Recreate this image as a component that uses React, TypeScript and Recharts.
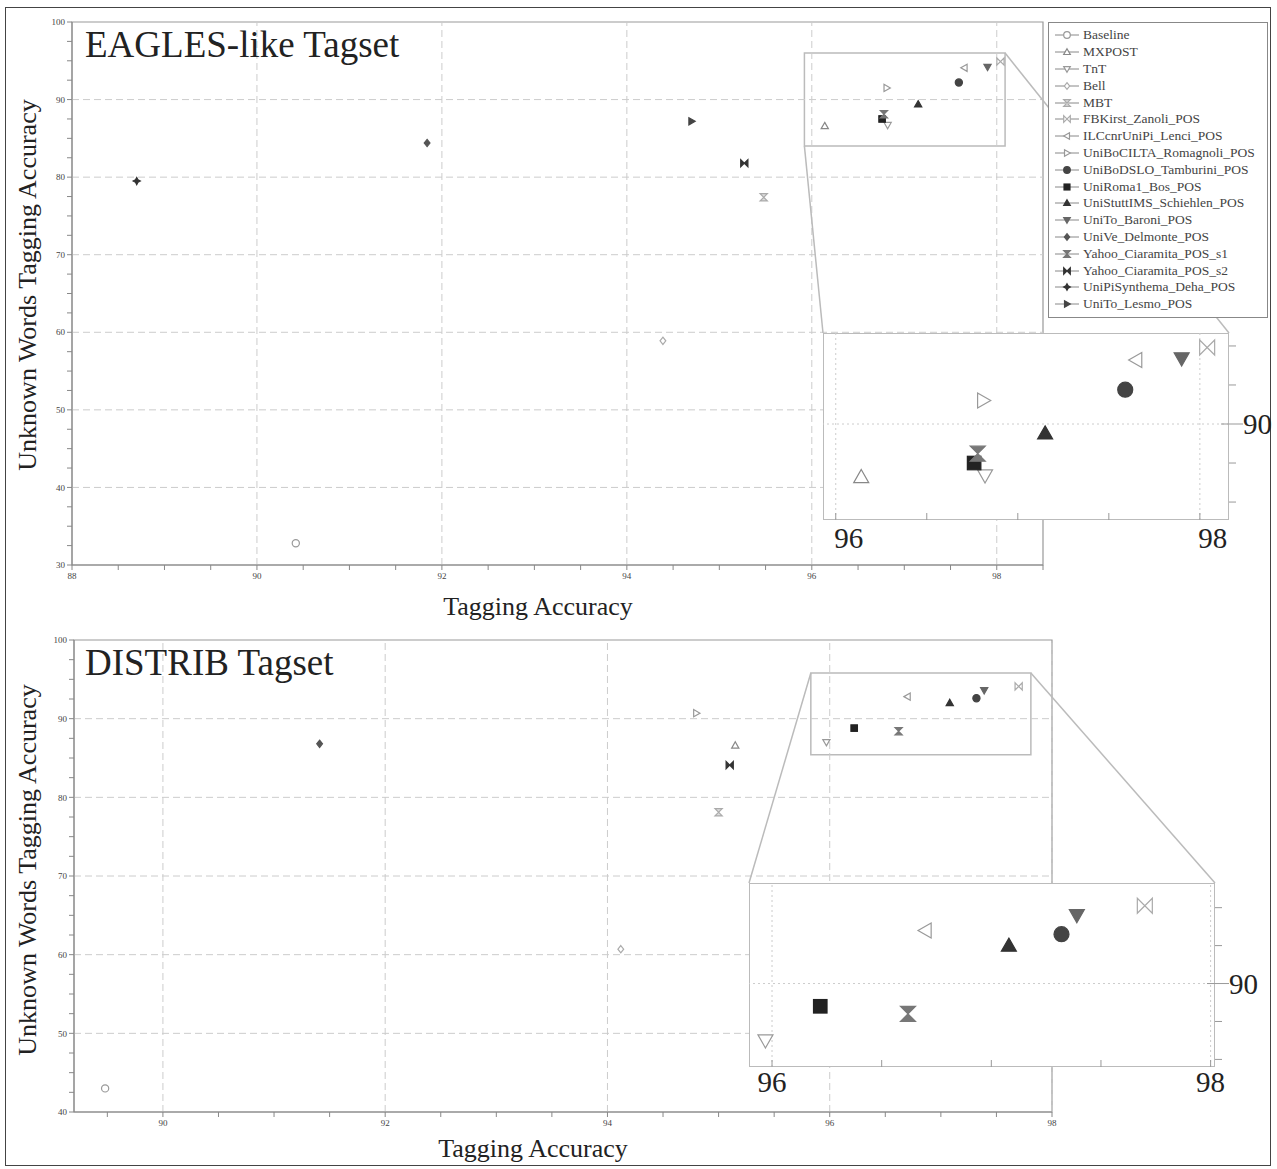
import React from "react";
import { ScatterChart, Scatter, XAxis, YAxis, ReferenceLine, ReferenceArea, Legend } from "recharts";

const seriesNames = [
  "Baseline", "MXPOST", "TnT", "Bell", "MBT",
  "FBKirst_Zanoli_POS", "ILCcnrUniPi_Lenci_POS", "UniBoCILTA_Romagnoli_POS",
  "UniBoDSLO_Tamburini_POS", "UniRoma1_Bos_POS", "UniStuttIMS_Schiehlen_POS",
  "UniTo_Baroni_POS", "UniVe_Delmonte_POS", "Yahoo_Ciaramita_POS_s1",
  "Yahoo_Ciaramita_POS_s2", "UniPiSynthema_Deha_POS", "UniTo_Lesmo_POS",
];

// EAGLES-like tagset: tagging accuracy / unknown words accuracy
const eaglesAccuracy = [90.42, 96.14, 96.82, 94.39, 95.48, 98.04, 97.65, 96.81, 97.59, 96.76, 97.15, 97.9, 91.84, 96.78, 95.27, 88.7, 94.7];
const eaglesUnknown = [32.8, 86.6, 86.7, 58.9, 77.4, 94.9, 94.1, 91.5, 92.2, 87.5, 89.4, 94.2, 84.4, 88.1, 81.8, 79.5, 87.2];

// DISTRIB tagset (last two systems not submitted)
const distribAccuracy = [89.48, 95.15, 95.97, 94.12, 95.0, 97.7, 96.7, 94.8, 97.32, 96.22, 97.08, 97.39, 91.41, 96.62, 95.1, null, null];
const distribUnknown = [43.0, 86.6, 87.0, 60.7, 78.1, 94.1, 92.8, 90.7, 92.6, 88.8, 92.0, 93.6, 86.8, 88.4, 84.1, null, null];

const eaglesXLabels = [88, 90, 92, 94, 96, 98];
const eaglesYLabels = [30, 40, 50, 60, 70, 80, 90, 100];
const distribXLabels = [90, 92, 94, 96, 98];
const distribYLabels = [40, 50, 60, 70, 80, 90, 100];
const insetXLabels = [96, 98];
const insetYLabels = [90];

const markers = [
  { kind: "circle", fill: "#fff", stroke: "#999" },
  { kind: "up", fill: "#fff", stroke: "#888" },
  { kind: "down", fill: "#fff", stroke: "#999" },
  { kind: "diamond", fill: "#fff", stroke: "#aaa" },
  { kind: "hourglass", fill: "#ddd", stroke: "#aaa" },
  { kind: "bowtie", fill: "#fff", stroke: "#aaa" },
  { kind: "left", fill: "#fff", stroke: "#999" },
  { kind: "right", fill: "#fff", stroke: "#999" },
  { kind: "circle", fill: "#444", stroke: "#444" },
  { kind: "square", fill: "#222", stroke: "#222" },
  { kind: "up", fill: "#333", stroke: "#333" },
  { kind: "down", fill: "#666", stroke: "#666" },
  { kind: "diamond", fill: "#555", stroke: "#555" },
  { kind: "hourglass", fill: "#777", stroke: "#777" },
  { kind: "bowtie", fill: "#333", stroke: "#333" },
  { kind: "star", fill: "#333", stroke: "#333" },
  { kind: "right", fill: "#444", stroke: "#444" },
];

const SERIF = "'Liberation Serif', 'DejaVu Serif', serif";

// layout of the two panels and their zoom insets (page pixels)
const TOP = { left: 72, right: 1043, top: 22, bottom: 565, chartTop: 0, x: [88, 98.5], y: [30, 100] };
const BOT = { left: 74, right: 1052, top: 640, bottom: 1112, chartTop: 620, x: [89.2, 98], y: [40, 100] };
const TOP_BOX = { x: [95.92, 98.09], y: [84, 96] };
const BOT_BOX = { x: [95.83, 97.81], y: [85.4, 95.8] };
const TOP_INSET = { left: 823, top: 333, w: 406, h: 187, x: [95.93, 98.16], y: [83.85, 95.83], yStep: 2.5, labelDx: 13, labelDy: 28 };
const BOT_INSET = { left: 749, top: 883, w: 466, h: 184, x: [95.895, 98.02], y: [85.6, 95.3], yStep: 2, labelDx: 0, labelDy: 25 };

function steps(lo: number, hi: number, step: number) {
  const out: number[] = [];
  for (let v = Math.ceil(lo / step - 1e-9) * step; v <= hi + 1e-9; v += step) out.push(Math.round(v * 100) / 100);
  return out;
}

function points(acc: (number | null)[], unk: (number | null)[], i: number) {
  return acc[i] == null ? [] : [{ x: acc[i], y: unk[i], name: seriesNames[i] }];
}

function Marker({ cx, cy, r, kind, fill, stroke }: any) {
  const c = { fill, stroke, strokeWidth: 1.2 };
  const p = (arr: number[][]) => arr.map((q) => q.join(",")).join(" ");
  switch (kind) {
    case "circle":
      return <circle cx={cx} cy={cy} r={r} {...c} />;
    case "square":
      return <rect x={cx - r * 0.9} y={cy - r * 0.9} width={r * 1.8} height={r * 1.8} {...c} />;
    case "diamond":
      return <polygon points={p([[cx, cy - r], [cx + r * 0.8, cy], [cx, cy + r], [cx - r * 0.8, cy]])} {...c} />;
    case "up":
      return <polygon points={p([[cx, cy - r], [cx + r, cy + r * 0.75], [cx - r, cy + r * 0.75]])} {...c} />;
    case "down":
      return <polygon points={p([[cx, cy + r], [cx + r, cy - r * 0.75], [cx - r, cy - r * 0.75]])} {...c} />;
    case "left":
      return <polygon points={p([[cx - r, cy], [cx + r * 0.75, cy - r], [cx + r * 0.75, cy + r]])} {...c} />;
    case "right":
      return <polygon points={p([[cx + r, cy], [cx - r * 0.75, cy - r], [cx - r * 0.75, cy + r]])} {...c} />;
    case "hourglass":
      return <path d={`M${cx - r},${cy - r}H${cx + r}L${cx - r},${cy + r}H${cx + r}Z`} {...c} />;
    case "bowtie":
      return <path d={`M${cx - r},${cy - r}V${cy + r}L${cx + r},${cy - r}V${cy + r}Z`} {...c} />;
    default: {
      const s = r * 0.35;
      return (
        <polygon
          points={p([[cx, cy - r], [cx + s, cy - s], [cx + r, cy], [cx + s, cy + s], [cx, cy + r], [cx - s, cy + s], [cx - r, cy], [cx - s, cy - s]])}
          {...c}
        />
      );
    }
  }
}

function LegendBox() {
  return (
    <div style={{ background: "#fff", border: "1px solid #888", padding: "4px 6px 4px 4px", fontFamily: SERIF, boxSizing: "border-box", width: 220 }}>
      {seriesNames.map((name, i) => (
        <div key={name} style={{ display: "flex", alignItems: "center", height: 16.8, whiteSpace: "nowrap" }}>
          <svg width={28} height={12} style={{ flex: "none" }}>
            <line x1={2} x2={26} y1={6} y2={6} stroke="#888" strokeWidth={1} />
            <Marker cx={14} cy={6} r={3.3} {...markers[i]} />
          </svg>
          <span style={{ fontSize: 13.5, color: "#444", marginLeft: 2 }}>{name}</span>
        </div>
      ))}
    </div>
  );
}

function Panel({ frame, acc, unk, xLabels, yLabels, box, legend }: any) {
  const height = frame.bottom - frame.chartTop + 35;
  const tickStyle = { fontSize: 9, fill: "#444", fontFamily: SERIF };
  return (
    <div style={{ position: "absolute", left: 0, top: frame.chartTop }}>
      <ScatterChart
        width={1277}
        height={height}
        margin={{ top: frame.top - frame.chartTop, right: 1277 - frame.right, left: 0, bottom: 0 }}
      >
        <XAxis
          type="number"
          dataKey="x"
          domain={frame.x}
          allowDataOverflow
          ticks={steps(frame.x[0], frame.x[1], 0.5)}
          tickFormatter={(v: number) => (xLabels.includes(v) ? String(v) : "")}
          interval={0}
          height={35}
          tick={tickStyle}
          tickSize={5}
          tickMargin={3}
          stroke="#888"
        />
        <YAxis
          type="number"
          dataKey="y"
          domain={frame.y}
          allowDataOverflow
          ticks={steps(frame.y[0], frame.y[1], 2.5)}
          tickFormatter={(v: number) => (yLabels.includes(v) ? String(v) : "")}
          interval={0}
          width={frame.left}
          tick={tickStyle}
          tickSize={5}
          tickMargin={2}
          stroke="#888"
        />
        {xLabels
          .filter((v: number) => v > frame.x[0])
          .map((v: number) => (
            <ReferenceLine key={"gx" + v} x={v} stroke="#ccc" strokeDasharray="7 4" />
          ))}
        {yLabels
          .filter((v: number) => v > frame.y[0] && v < frame.y[1])
          .map((v: number) => (
            <ReferenceLine key={"gy" + v} y={v} stroke="#ccc" strokeDasharray="7 4" />
          ))}
        <ReferenceArea x1={frame.x[0]} x2={frame.x[1]} y1={frame.y[0]} y2={frame.y[1]} fill="none" stroke="#999" strokeWidth={1.2} />
        <ReferenceArea x1={box.x[0]} x2={box.x[1]} y1={box.y[0]} y2={box.y[1]} fill="none" stroke="#bbb" strokeWidth={1.5} />
        {seriesNames.map((name, i) => (
          <Scatter
            key={name}
            name={name}
            data={points(acc, unk, i)}
            isAnimationActive={false}
            shape={(p: any) => <Marker cx={p.cx} cy={p.cy} r={3.6} {...markers[i]} />}
          />
        ))}
        {legend && (
          <Legend
            layout="vertical"
            align="center"
            verticalAlign="middle"
            wrapperStyle={{ position: "absolute", left: 1048, top: 22, width: 220, zIndex: 5 }}
            content={() => <LegendBox />}
          />
        )}
      </ScatterChart>
    </div>
  );
}

function Inset({ inset, acc, unk }: any) {
  const axisW = 70;
  const inside = (i: number) =>
    acc[i] != null && acc[i] >= inset.x[0] && acc[i] <= inset.x[1] && unk[i] >= inset.y[0] && unk[i] <= inset.y[1];
  const xTick = (p: any) => {
    const v = p.payload.value;
    const x = p.x;
    return (
      <g>
        <line x1={x} x2={x} y1={inset.h} y2={inset.h - 7} stroke="#999" />
        {insetXLabels.includes(v) && (
          <text x={x + inset.labelDx} y={inset.h + inset.labelDy} textAnchor="middle" fontSize={29} fontFamily={SERIF} fill="#222">
            {v}
          </text>
        )}
      </g>
    );
  };
  const yTick = (p: any) => {
    const v = p.payload.value;
    const y = p.y;
    const major = insetYLabels.includes(v);
    return (
      <g>
        <line x1={major ? inset.w - 8 : inset.w} x2={inset.w + (major ? 14 : 7)} y1={y} y2={y} stroke="#999" />
        {major && (
          <text x={inset.w + 14} y={y + 10} textAnchor="start" fontSize={29} fontFamily={SERIF} fill="#222">
            {v}
          </text>
        )}
      </g>
    );
  };
  return (
    <div style={{ position: "absolute", left: inset.left, top: inset.top, zIndex: 3 }}>
      <div
        style={{
          position: "absolute",
          left: 0,
          top: 0,
          width: inset.w,
          height: inset.h,
          background: "#fff",
          border: "1.5px solid #bbb",
          boxSizing: "border-box",
        }}
      />
      <ScatterChart width={inset.w + axisW} height={inset.h + 40} margin={{ top: 0, right: 0, left: 0, bottom: 0 }}>
        <XAxis
          type="number"
          dataKey="x"
          domain={inset.x}
          allowDataOverflow
          ticks={steps(inset.x[0], inset.x[1], 0.5)}
          interval={0}
          height={40}
          axisLine={false}
          tickLine={false}
          tick={xTick}
        />
        <YAxis
          type="number"
          dataKey="y"
          orientation="right"
          domain={inset.y}
          allowDataOverflow
          ticks={steps(inset.y[0], inset.y[1], inset.yStep)}
          interval={0}
          width={axisW}
          axisLine={false}
          tickLine={false}
          tick={yTick}
        />
        {insetXLabels.map((v) => (
          <ReferenceLine key={"ix" + v} x={v} stroke="#ccc" strokeDasharray="2 3" />
        ))}
        {insetYLabels.map((v) => (
          <ReferenceLine key={"iy" + v} y={v} stroke="#ccc" strokeDasharray="2 3" />
        ))}
        {seriesNames.map((name, i) => (
          <Scatter
            key={name}
            name={name}
            data={inside(i) ? points(acc, unk, i) : []}
            isAnimationActive={false}
            shape={(p: any) => <Marker cx={p.cx} cy={p.cy} r={7.5} {...markers[i]} />}
          />
        ))}
      </ScatterChart>
    </div>
  );
}

function toPx(frame: any, x: number, y: number) {
  const px = frame.left + ((x - frame.x[0]) / (frame.x[1] - frame.x[0])) * (frame.right - frame.left);
  const py = frame.top + ((frame.y[1] - y) / (frame.y[1] - frame.y[0])) * (frame.bottom - frame.top);
  return [px, py];
}

function Connectors() {
  const [tl0, tl1] = toPx(TOP, TOP_BOX.x[0], TOP_BOX.y[0]);
  const [tr0, tr1] = toPx(TOP, TOP_BOX.x[1], TOP_BOX.y[1]);
  const [bl0, bl1] = toPx(BOT, BOT_BOX.x[0], BOT_BOX.y[1]);
  const [br0, br1] = toPx(BOT, BOT_BOX.x[1], BOT_BOX.y[1]);
  return (
    <svg width={1277} height={1169} style={{ position: "absolute", left: 0, top: 0, zIndex: 1, pointerEvents: "none" }}>
      <line x1={tl0} y1={tl1} x2={TOP_INSET.left} y2={TOP_INSET.top} stroke="#bbb" strokeWidth={1.5} />
      <line x1={tr0} y1={tr1} x2={TOP_INSET.left + TOP_INSET.w} y2={TOP_INSET.top} stroke="#bbb" strokeWidth={1.5} />
      <line x1={bl0} y1={bl1} x2={BOT_INSET.left} y2={BOT_INSET.top} stroke="#bbb" strokeWidth={1.5} />
      <line x1={br0} y1={br1} x2={BOT_INSET.left + BOT_INSET.w} y2={BOT_INSET.top} stroke="#bbb" strokeWidth={1.5} />
    </svg>
  );
}

const textBase: React.CSSProperties = { position: "absolute", fontFamily: SERIF, color: "#222", whiteSpace: "nowrap", lineHeight: 1 };

function AxisTitles({ frame, yCenter, xCenter, xBaseline, title, titleTop }: any) {
  return (
    <>
      <div style={{ ...textBase, left: 85, top: titleTop, fontSize: 37, zIndex: 2 }}>{title}</div>
      <div style={{ ...textBase, left: xCenter - 150, width: 300, textAlign: "center", top: xBaseline - 22, fontSize: 26 }}>
        Tagging Accuracy
      </div>
      <div
        style={{
          ...textBase,
          left: 28 - 220,
          width: 440,
          height: 30,
          lineHeight: "30px",
          textAlign: "center",
          top: yCenter - 15,
          fontSize: 26,
          transform: "rotate(-90deg)",
        }}
      >
        Unknown Words Tagging Accuracy
      </div>
    </>
  );
}

export default function App() {
  return (
    <div style={{ position: "absolute", left: 0, top: 0, width: 1277, height: 1169, background: "#fff", fontFamily: SERIF }}>
      <div style={{ position: "absolute", left: 5, top: 7, width: 1266, height: 1159, border: "1.5px solid #444", boxSizing: "border-box" }} />
      <Panel frame={TOP} acc={eaglesAccuracy} unk={eaglesUnknown} xLabels={eaglesXLabels} yLabels={eaglesYLabels} box={TOP_BOX} legend />
      <Panel frame={BOT} acc={distribAccuracy} unk={distribUnknown} xLabels={distribXLabels} yLabels={distribYLabels} box={BOT_BOX} />
      <Connectors />
      <Inset inset={TOP_INSET} acc={eaglesAccuracy} unk={eaglesUnknown} />
      <Inset inset={BOT_INSET} acc={distribAccuracy} unk={distribUnknown} />
      <AxisTitles frame={TOP} title="EAGLES-like Tagset" titleTop={26} xCenter={538} xBaseline={616} yCenter={285} />
      <AxisTitles frame={BOT} title="DISTRIB Tagset" titleTop={644} xCenter={533} xBaseline={1158} yCenter={870} />
    </div>
  );
}
